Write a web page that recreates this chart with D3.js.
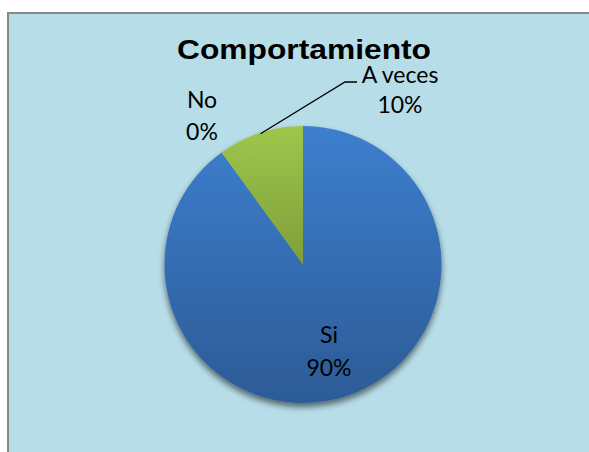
<!DOCTYPE html>
<html><head><meta charset="utf-8">
<script src="https://cdn.jsdelivr.net/npm/d3@7"></script>
<style>html,body{margin:0;padding:0;background:#fff;overflow:hidden}</style>
</head><body>
<svg id="c" width="589" height="452"></svg>
<script>
const categories = ["Si", "No", "A veces"];
const values = [90, 0, 10];
const percentLabels = ["90%", "0%", "10%"];
const title = "Comportamiento";

const svg = d3.select("#c");
const W = 589, H = 452;
svg.append("rect").attr("x", 0).attr("y", 0).attr("width", W).attr("height", H).attr("fill", "#fff");
svg.append("rect").attr("x", 8).attr("y", 13).attr("width", W + 10).attr("height", H + 10)
  .attr("fill", "#B7DDE8").attr("stroke", "#878787").attr("stroke-width", 2);

const cx = 303, cy = 264.5, R = 138.5;

const defs = svg.append("defs");
const gBlue = defs.append("linearGradient").attr("id", "gb").attr("gradientUnits", "userSpaceOnUse")
  .attr("x1", 0).attr("y1", -R).attr("x2", 0).attr("y2", R);
gBlue.append("stop").attr("offset", "0%").attr("stop-color", "#3D7FCE");
gBlue.append("stop").attr("offset", "100%").attr("stop-color", "#2C5B96");
const gGreen = defs.append("linearGradient").attr("id", "gg").attr("gradientUnits", "userSpaceOnUse")
  .attr("x1", 0).attr("y1", -R).attr("x2", 0).attr("y2", 0);
gGreen.append("stop").attr("offset", "0%").attr("stop-color", "#9EC64C");
gGreen.append("stop").attr("offset", "100%").attr("stop-color", "#7F9F3A");
const f = defs.append("filter").attr("id", "sh").attr("x", "-20%").attr("y", "-20%").attr("width", "140%").attr("height", "140%");
f.append("feGaussianBlur").attr("in", "SourceAlpha").attr("stdDeviation", 3);
f.append("feOffset").attr("dx", 0).attr("dy", 4).attr("result", "ob");
f.append("feComponentTransfer").append("feFuncA").attr("type", "linear").attr("slope", 0.55);
const fm = f.append("feMerge");
fm.append("feMergeNode");
fm.append("feMergeNode").attr("in", "SourceGraphic");

const fills = ["url(#gb)", "none", "url(#gg)"];
const pie = d3.pie().sort(null).value(d => d)(values);
const arc = d3.arc().innerRadius(0).outerRadius(R);

const g = svg.append("g").attr("transform", `translate(${cx},${cy})`);
const pg = g.append("g").attr("filter", "url(#sh)");
pg.selectAll("path").data(pie).join("path")
  .attr("d", arc)
  .attr("fill", (d, i) => fills[i])
  .attr("stroke", "none");

svg.append("text").attr("x", 304).attr("y", 59).attr("text-anchor", "middle")
  .attr("font-family", "Liberation Sans, Arial, sans-serif").attr("font-weight", "bold")
  .attr("font-size", 27).attr("textLength", 254).attr("lengthAdjust", "spacingAndGlyphs")
  .attr("fill", "#000").text(title);

const lf = "Lato, 'Noto Sans', sans-serif";
const labelPos = [
  {x: cx + 26, y1: cy + 78.5, y2: cy + 111.5},
  {x: cx - 101, y1: cy - 156.5, y2: cy - 124.5},
  {x: cx + 97, y1: cy - 181.5, y2: cy - 151.5}
];
pie.forEach((d, i) => {
  const p = labelPos[i];
  const t = svg.append("text").attr("text-anchor", "middle").attr("font-family", lf)
    .attr("font-size", 23).attr("fill", "#000");
  t.append("tspan").attr("x", p.x).attr("y", p.y1).text(categories[i]);
  t.append("tspan").attr("x", p.x).attr("y", p.y2).text(percentLabels[i]);
});

// leader line for "A veces"
const av = pie[2];
const ang = (av.startAngle + av.endAngle) / 2;
const sx = cx + Math.sin(ang) * (R - 1), sy = cy - Math.cos(ang) * (R - 1);
svg.append("path")
  .attr("d", `M${sx},${sy} L${cx + 42},${cy - 182.5} L${cx + 54},${cy - 182.5}`)
  .attr("fill", "none").attr("stroke", "#000").attr("stroke-width", 1.3);
</script>
</body></html>
